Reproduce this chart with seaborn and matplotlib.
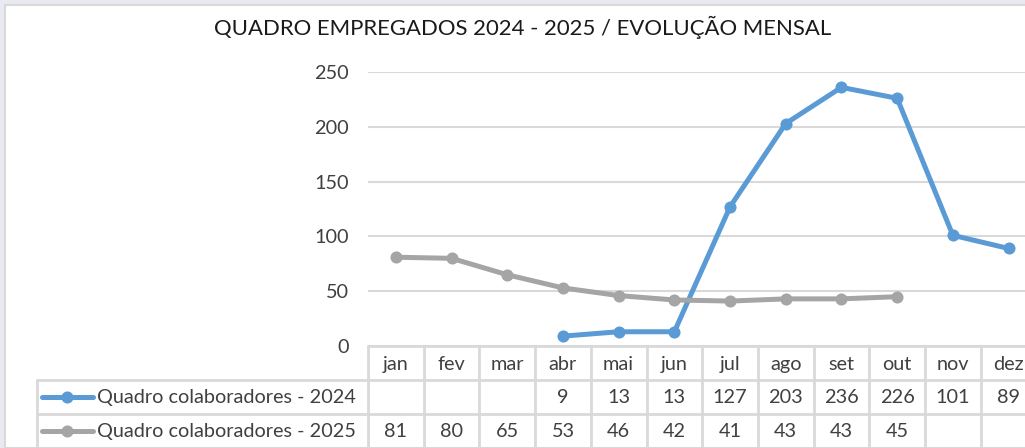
import matplotlib
matplotlib.use("Agg")
import matplotlib.pyplot as plt
import matplotlib.transforms as mtransforms
import seaborn as sns
import numpy as np
import pandas as pd

months = ["jan", "fev", "mar", "abr", "mai", "jun", "jul", "ago", "set", "out", "nov", "dez"]
serie_2024 = [None, None, None, 9, 13, 13, 127, 203, 236, 226, 101, 89]
serie_2025 = [81, 80, 65, 53, 46, 42, 41, 43, 43, 45, None, None]
names = ["Quadro colaboradores - 2024", "Quadro colaboradores - 2025"]
colors = ["#5B9BD5", "#A5A5A5"]
yticks = [0, 50, 100, 150, 200, 250]
title = "QUADRO EMPREGADOS 2024 - 2025 / EVOLUÇÃO MENSAL"

sns.set_theme(style="white")
plt.rcParams["font.family"] = ["Lato", "DejaVu Sans"]

W, H = 1025, 448
fig = plt.figure(figsize=(W / 100, H / 100), dpi=100)
fig.patch.set_facecolor("#E9E9F1")
# white chart area
fig.add_artist(plt.Rectangle((5 / W, 0), 1, 1 - 5 / H, transform=fig.transFigure,
                             facecolor="white", edgecolor="#D9D9D9", lw=1.5, zorder=0))

def fx(x):
    return x / W

def fy(y):
    return 1 - y / H

x0, x1 = 368, 368 + 12 * 55.7
ytop, ybot = 72, 346
ax = fig.add_axes([fx(x0), fy(ybot), (x1 - x0) / W, (ybot - ytop) / H])
ax.set_facecolor("none")

df = pd.DataFrame({"x": np.arange(12), "mes": months,
                   names[0]: pd.array(serie_2024, dtype="Float64"),
                   names[1]: pd.array(serie_2025, dtype="Float64")})
long = df.melt(id_vars=["x", "mes"], value_vars=names, var_name="serie", value_name="v").dropna()
long["v"] = long["v"].astype(float)

sns.lineplot(data=long, x="x", y="v", hue="serie", palette=dict(zip(names, colors)),
             marker="o", markersize=8.7, linewidth=3.6, markeredgewidth=0, ax=ax,
             legend=False, sort=True)

fs = 14.3
tc = "#404040"

ax.set_xlim(-0.5, 11.5)
ax.set_ylim(0, 250)
ax.set_yticks(yticks)
ax.set_yticklabels([str(t) for t in yticks], fontsize=fs, color=tc)
ax.tick_params(axis="y", length=0, pad=14)
ax.set_xticks([])
ax.set_xlabel("")
ax.set_ylabel("")
ax.grid(axis="y", color="#D9D9D9", lw=1.5)
for s in ax.spines.values():
    s.set_visible(False)

fig.text(fx(523), fy(27), title, ha="center", va="center", fontsize=15.9, color="#1a1a1a")

# data table
grid_c = "#D9D9D9"
blend = mtransforms.blended_transform_factory(ax.transData, fig.transFigure)
rows = [346, 380, 414, 448]
# horizontal lines
ax.plot([-0.5, 12], [fy(346)] * 2, transform=blend, color=grid_c, lw=2, clip_on=False)
for yy in rows[1:]:
    fig.add_artist(plt.Line2D([fx(37), 1.05], [fy(yy)] * 2, transform=fig.transFigure, color=grid_c, lw=2))
# vertical lines
for i in range(13):
    ax.plot([i - 0.5] * 2, [fy(346), fy(448)], transform=blend, color=grid_c, lw=2, clip_on=False)
fig.add_artist(plt.Line2D([fx(37)] * 2, [fy(380), fy(448)], transform=fig.transFigure, color=grid_c, lw=2))

for i, m in enumerate(months):
    ax.text(i, fy(364), m, transform=blend, ha="center", va="center", fontsize=fs, color=tc, clip_on=False)
for r, (serie, c, nm) in enumerate(zip([serie_2024, serie_2025], colors, names)):
    yc = fy((rows[r + 1] + rows[r + 2]) / 2)
    for i, v in enumerate(serie):
        if v is not None:
            ax.text(i, yc, str(v), transform=blend, ha="center", va="center", fontsize=fs, color=tc, clip_on=False)
    fig.add_artist(plt.Line2D([fx(42), fx(93)], [yc, yc], transform=fig.transFigure, color=c, lw=3.6))
    fig.add_artist(plt.Line2D([fx(67)], [yc], transform=fig.transFigure, color=c, marker="o",
                              markersize=8.7, markeredgewidth=0))
    fig.text(fx(97), yc, nm, ha="left", va="center", fontsize=fs, color=tc)

fig.savefig("out.png", dpi=100)
